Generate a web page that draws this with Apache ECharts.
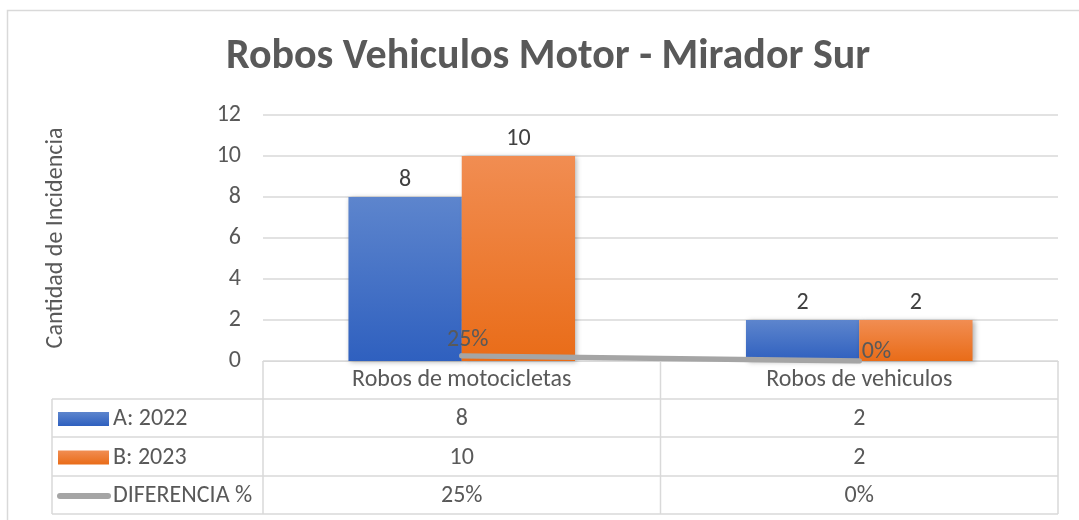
<!DOCTYPE html>
<html><head><meta charset="utf-8">
<script src="https://cdn.jsdelivr.net/npm/echarts@6/dist/echarts.min.js"></script>
<style>html,body{margin:0;padding:0;background:#fff}#c{width:1079px;height:520px}</style>
</head><body><div id="c"></div>
<script>
const categories = ['Robos de motocicletas', 'Robos de vehiculos'];
const seriesNames = ['A: 2022', 'B: 2023', 'DIFERENCIA %'];
const valuesA = [8, 2];
const valuesB = [10, 2];
const diffPct = [0.25, 0];
const yMin = 0, yMax = 12, yStep = 2;
const titleText = 'Robos Vehiculos Motor - Mirador Sur';
const yName = 'Cantidad de Incidencia';

const FONT = 'Carlito, Lato, sans-serif';
const TXT = '#595959';
const GRIDC = '#D9D9D9';
const FS = 24;
const L = 263, R = 1058, T = 115, B = 361;
const rowLines = [399, 437, 476, 514];
const legLeft = 52;

const blueGrad = new echarts.graphic.LinearGradient(0,0,0,1,[{offset:0,color:'#5D85CD'},{offset:1,color:'#2F60BF'}]);
const orangeGrad = new echarts.graphic.LinearGradient(0,0,0,1,[{offset:0,color:'#F18D52'},{offset:1,color:'#E96C18'}]);
const pct = v => Math.round(v*100) + '%';

const chart = echarts.init(document.getElementById('c'), null, {renderer:'canvas'});
const option = {
  animation: false,
  title: {text: titleText, left: 221, top: 31,
    textStyle:{fontFamily:FONT, fontWeight:'bold', fontSize:42, color:TXT}},
  grid: {left:L, right:1079-R, top:T, bottom:520-B, containLabel:false},
  xAxis: {type:'category', data:categories,
    axisLine:{show:true, lineStyle:{color:GRIDC, width:1}},
    axisTick:{show:false},
    axisLabel:{fontFamily:FONT, fontSize:FS, color:TXT, margin:7}},
  yAxis: {type:'value', min:yMin, max:yMax, interval:yStep,
    name:yName, nameLocation:'middle', nameGap:195, nameRotate:90,
    nameTextStyle:{fontFamily:FONT, fontSize:FS, color:TXT},
    axisLine:{show:false}, axisTick:{show:false},
    axisLabel:{fontFamily:FONT, fontSize:FS, color:TXT, margin:22},
    splitLine:{lineStyle:{color:GRIDC, width:1.5}}},
  series: [
    {name:seriesNames[0], type:'bar', data:valuesA, barGap:'0%', barCategoryGap:'43%',
      itemStyle:{color:blueGrad, shadowColor:'rgba(0,0,0,0.3)', shadowBlur:5, shadowOffsetX:2, shadowOffsetY:1},
      label:{show:true, position:'top', distance:5, fontFamily:FONT, fontSize:FS, color:'#404040'}, z:2},
    {name:seriesNames[1], type:'bar', data:valuesB,
      itemStyle:{color:orangeGrad, shadowColor:'rgba(0,0,0,0.3)', shadowBlur:5, shadowOffsetX:2, shadowOffsetY:1},
      label:{show:true, position:'top', distance:5, fontFamily:FONT, fontSize:FS, color:'#404040'}, z:2},
    {name:seriesNames[2], type:'line', z:5,
      data: diffPct.map((v,i)=>({value:v, label: i===0 ? {position:'top', offset:[6,2]} : {position:'right', offset:[-3,-9]}})),
      symbol:'circle', symbolSize:1, showSymbol:true, itemStyle:{color:'rgba(0,0,0,0)'},
      lineStyle:{color:'#A5A5A5', width:5.5, cap:'round'},
      label:{show:true, fontFamily:FONT, fontSize:FS, color:TXT, formatter:p=>pct(p.value)}}
  ]
};
chart.setOption(option);

// data table built from the arrays
const centers = categories.map(c => chart.convertToPixel({xAxisIndex:0}, c));
const g = [];
g.push({type:'rect', shape:{x:7.5,y:10.5,width:1100,height:600}, style:{fill:'none', stroke:GRIDC, lineWidth:1.5}, silent:true});
const line = (x1,y1,x2,y2) => g.push({type:'line', shape:{x1,y1,x2,y2}, style:{stroke:GRIDC, lineWidth:1.5}, silent:true});
line(L, B, L, rowLines[3]);
line((L+R)/2, B, (L+R)/2, rowLines[3]);
line(R, B, R, rowLines[3]);
line(legLeft, rowLines[0], legLeft, rowLines[3]);
rowLines.forEach(y => line(legLeft, y, R, y));
const rows = [valuesA.map(String), valuesB.map(String), diffPct.map(pct)];
rows.forEach((r, ri) => {
  const yc = (rowLines[ri] + rowLines[ri+1]) / 2 + 1;
  r.forEach((txt, ci) => g.push({type:'text', x:centers[ci], y:yc,
    style:{text:txt, fontFamily:FONT, fontSize:FS, fill:TXT, align:'center', verticalAlign:'middle'}}));
  const sx = 58;
  if (ri < 2) {
    g.push({type:'rect', shape:{x:sx, y:yc-7, width:51, height:14}, style:{fill: ri===0?blueGrad:orangeGrad}});
  } else {
    g.push({type:'line', shape:{x1:sx+2, y1:yc, x2:sx+50, y2:yc}, style:{stroke:'#A5A5A5', lineWidth:6, lineCap:'round'}});
  }
  g.push({type:'text', x:113, y:yc, style:{text:seriesNames[ri], fontFamily:FONT, fontSize:FS, fill:TXT, align:'left', verticalAlign:'middle'}});
});
chart.setOption({graphic:g});
</script></body></html>
